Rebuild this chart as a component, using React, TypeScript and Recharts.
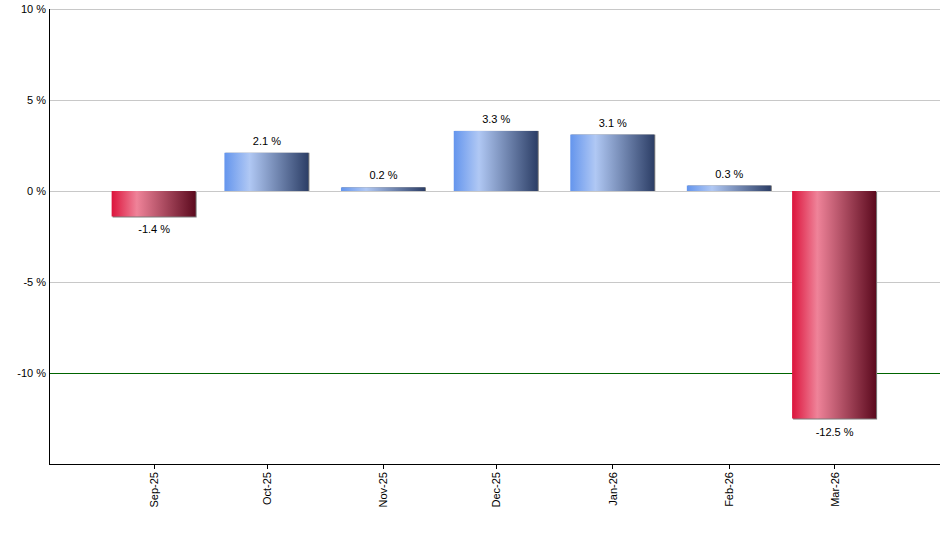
import React from 'react';
import { BarChart, Bar, XAxis, YAxis, CartesianGrid, LabelList } from 'recharts';

const monthDates = ['2025-09-01', '2025-10-01', '2025-11-01', '2025-12-01', '2026-01-01', '2026-02-01', '2026-03-01'];
const monthLabels = ['Sep-25', 'Oct-25', 'Nov-25', 'Dec-25', 'Jan-26', 'Feb-26', 'Mar-26'];
const changes = [-1.4, 2.1, 0.2, 3.3, 3.1, 0.3, -12.5];
const yTicks = [-10, -5, 0, 5, 10];
const yDomain = [-15, 10];
const thresholdLine = -10;

const DAY = 86400000;
const base = Date.parse(monthDates[0]);
const dayOf = (s: string) => Math.round((Date.parse(s) - base) / DAY);
const data = monthDates.map((d, i) => ({ day: dayOf(d), label: monthLabels[i], value: changes[i] }));
const xTicks = data.map((d) => d.day);
const labelByDay: Record<number, string> = {};
data.forEach((d) => (labelByDay[d.day] = d.label));
const xDomain = [xTicks[0] - 28, xTicks[xTicks.length - 1] + 28];

const FONT = '"Liberation Sans", Arial, sans-serif';

const BarShape = (props: any) => {
  const { x, y, width, height, index, payload } = props;
  const v = payload?.value ?? 0;
  const top = Math.min(y, y + height);
  const h = Math.abs(height);
  const neg = v < 0;
  const id = `grad-${index}`;
  const stops = neg
    ? ['#dc143c', '#ef8399', '#5c0a1e']
    : ['#6495ed', '#b0c8f4', '#2c3e66'];
  return (
    <g>
      <defs>
        <linearGradient id={id} x1="0" y1="0" x2="1" y2="0">
          <stop offset="0%" stopColor={stops[0]} />
          <stop offset="30%" stopColor={stops[1]} />
          <stop offset="100%" stopColor={stops[2]} />
        </linearGradient>
      </defs>
      <rect x={x + 1} y={top + (neg ? 1 : 0)} width={width - 1} height={h} fill="#7a7a7a" />
      <rect x={x} y={top} width={width - 1} height={h} fill={`url(#${id})`} />
    </g>
  );
};

const renderLabel = (props: any) => {
  const { x, y, width, height, value } = props;
  const top = Math.min(y, y + height);
  const bottom = Math.max(y, y + height);
  const neg = value < 0;
  return (
    <text
      x={x + width / 2}
      y={neg ? bottom + 17 : top - 8}
      textAnchor="middle"
      fontSize={11}
      fontFamily={FONT}
      fill="#000"
    >
      {`${value} %`}
    </text>
  );
};

const XTick = (props: any) => {
  const { x, y, payload } = props;
  const ty = y + 1;
  return (
    <text
      x={x}
      y={ty}
      transform={`rotate(-90 ${x} ${ty})`}
      textAnchor="end"
      dy="0.35em"
      fontSize={11}
      fontFamily={FONT}
      fill="#000"
    >
      {labelByDay[payload.value]}
    </text>
  );
};

const GridLine = (p: any) => {
  let isThreshold = false;
  if (typeof p.y === 'number' && typeof p.height === 'number' && p.height > 0) {
    const ratio = (p.y1 - p.y) / p.height;
    const val = yDomain[1] - ratio * (yDomain[1] - yDomain[0]);
    isThreshold = Math.abs(val - thresholdLine) < 0.3;
  }
  return (
    <line
      key={p.key}
      x1={p.x1}
      y1={p.y1}
      x2={p.x2}
      y2={p.y2}
      stroke={isThreshold ? '#006400' : '#c8c8c8'}
      strokeWidth={1}
      shapeRendering="crispEdges"
      fill="none"
    />
  );
};

export default function App() {
  return (
    <div style={{ position: 'absolute', left: 0, top: 0, width: 940, height: 550, background: '#fff' }}>
      <BarChart
        width={940}
        height={550}
        data={data}
        margin={{ top: 9, right: 0, bottom: 26, left: 0 }}
      >
        <CartesianGrid vertical={false} stroke="#c8c8c8" horizontal={(p: any) => <GridLine {...p} />} />
        <XAxis
          type="number"
          dataKey="day"
          domain={xDomain}
          ticks={xTicks}
          interval={0}
          tick={<XTick />}
          tickSize={5}
          height={60}
          axisLine={{ stroke: '#000', shapeRendering: 'crispEdges' }}
          tickLine={{ stroke: '#000', shapeRendering: 'crispEdges' }}
        />
        <YAxis
          type="number"
          domain={yDomain}
          ticks={yTicks}
          interval={0}
          width={49}
          tickFormatter={(v: number) => `${v} %`}
          tickLine={false}
          tickSize={0}
          tickMargin={3}
          axisLine={{ stroke: '#000', shapeRendering: 'crispEdges' }}
          tick={{ fontSize: 11, fontFamily: FONT, fill: '#000' }}
        />
        <Bar dataKey="value" barSize={85} isAnimationActive={false} shape={BarShape}>
          <LabelList dataKey="value" content={renderLabel} />
        </Bar>
      </BarChart>
    </div>
  );
}
